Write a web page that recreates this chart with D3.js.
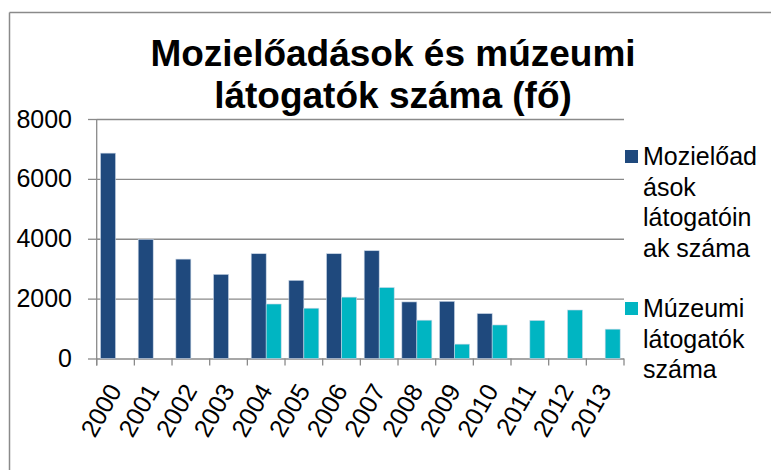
<!DOCTYPE html>
<html><head><meta charset="utf-8">
<script src="https://cdn.jsdelivr.net/npm/d3@7"></script>
<style>
html,body{margin:0;padding:0;background:#fff;}
svg{display:block;font-family:"Liberation Sans",Arial,sans-serif;}
</style></head>
<body>
<svg id="c" width="771" height="470"></svg>
<script>
const years = ["2000","2001","2002","2003","2004","2005","2006","2007","2008","2009","2010","2011","2012","2013"];
const seriesNames = ["Mozielőadások látogatóinak száma","Múzeumi látogatók száma"];
const cinema = [6860,3980,3320,2810,3500,2610,3500,3600,1890,1910,1500,null,null,null];
const museum = [null,null,null,null,1820,1680,2050,2370,1280,480,1120,1270,1620,980];
const yTicks = [0,2000,4000,6000,8000];
const titleLines = ["Mozielőadások és múzeumi","látogatók száma (fő)"];
const legendLines = [["Mozielőad","ások","látogatóin","ak száma"],["Múzeumi","látogatók","száma"]];
const colors = ["#1F497D","#00B5C2"];

const svg = d3.select("#c");
const gridCol = "#8a8a8a";

// frame
svg.append("line").attr("x1",9.5).attr("x2",771).attr("y1",12.5).attr("y2",12.5).attr("stroke",gridCol).attr("stroke-width",1.5);
svg.append("line").attr("x1",9.5).attr("x2",9.5).attr("y1",12.5).attr("y2",470).attr("stroke",gridCol).attr("stroke-width",1.5);

const x0 = 96.7, x1 = 624, yTop = 119, yBot = 358.5;
const x = d3.scaleBand().domain(years).range([x0,x1]).padding(0);
const xi = d3.scaleBand().domain([0,1]).range([0,x.bandwidth()]).paddingInner(0).paddingOuter(0.256);
const y = d3.scaleLinear().domain([0,8000]).range([yBot,yTop]);

// title
const title = svg.append("text").attr("text-anchor","middle").attr("font-weight","bold").attr("font-size",37).attr("fill","#000");
titleLines.forEach((t,i)=>title.append("tspan").attr("x",393).attr("y",i===0?66:108).text(t));

// gridlines
const grid = svg.append("g").attr("transform",`translate(${x0},0)`)
  .call(d3.axisLeft(y).tickValues(yTicks).tickSize(-(x1-x0)).tickFormat(""));
grid.select(".domain").remove();
grid.selectAll("line").attr("stroke",gridCol).attr("stroke-width",1.3);

// y axis
const ya = svg.append("g").attr("transform",`translate(${x0},0)`)
  .call(d3.axisLeft(y).tickValues(yTicks).tickSize(8.7).tickPadding(16).tickFormat(d3.format("d")).tickSizeOuter(0));
ya.select(".domain").remove();
ya.selectAll("line").attr("stroke",gridCol).attr("stroke-width",1.3);
ya.selectAll("text").attr("font-size",25).attr("fill","#000").attr("font-family","Liberation Sans, Arial, sans-serif");
svg.append("line").attr("x1",x0).attr("x2",x0).attr("y1",yTop).attr("y2",yBot+7).attr("stroke",gridCol).attr("stroke-width",1.3);

// x ticks at band boundaries
svg.append("g").selectAll("line").data(years.concat(["end"])).join("line")
  .attr("x1",(d,i)=>x0+i*x.bandwidth()).attr("x2",(d,i)=>x0+i*x.bandwidth())
  .attr("y1",yBot).attr("y2",yBot+7).attr("stroke",gridCol).attr("stroke-width",1.3);

// bars
const data = [cinema, museum];
data.forEach((vals,s)=>{
  svg.append("g").selectAll("rect").data(years.map((yr,i)=>({yr,v:vals[i]})).filter(d=>d.v!=null)).join("rect")
    .attr("x",d=>x(d.yr)+xi(s)).attr("width",xi.bandwidth())
    .attr("y",d=>y(d.v)).attr("height",d=>yBot-y(d.v))
    .attr("fill",colors[s]).attr("stroke","#c9d6e6").attr("stroke-width",0.6);
});

// x labels
svg.append("g").selectAll("text").data(years).join("text")
  .attr("transform",d=>`translate(${x(d)+x.bandwidth()/2+7},${yBot+32}) rotate(-60)`)
  .attr("text-anchor","end").attr("font-size",25).attr("fill","#000").text(d=>d);

// legend
const legTop = [150,302];
legendLines.forEach((lines,s)=>{
  svg.append("rect").attr("x",625).attr("y",legTop[s]).attr("width",13).attr("height",13).attr("fill",colors[s]);
  const t = svg.append("text").attr("font-size",25).attr("fill","#000");
  lines.forEach((l,i)=>t.append("tspan").attr("x",643).attr("y",legTop[s]+15+i*30.6).text(l));
});
</script>
</body></html>
